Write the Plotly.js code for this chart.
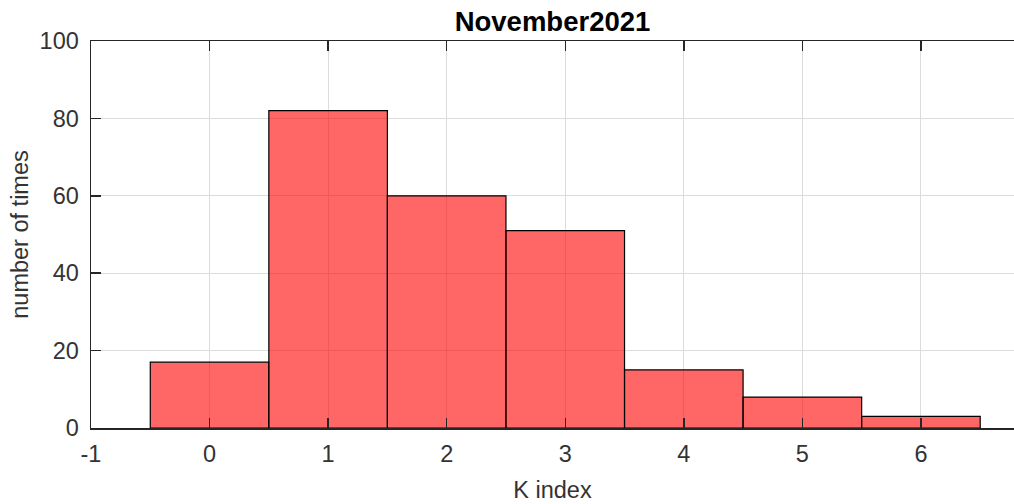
<!DOCTYPE html>
<html>
<head>
<meta charset="utf-8">
<script src="https://cdn.plot.ly/plotly-3.0.1.min.js"></script>
<style>html,body{margin:0;padding:0;background:#fff;}#chart{width:1014px;height:504px;}</style>
</head>
<body>
<div id="chart"></div>
<script>
const kIndex = [0, 1, 2, 3, 4, 5, 6];
const counts = [17, 82, 60, 51, 15, 8, 3];
const xTicks = [-1, 0, 1, 2, 3, 4, 5, 6];
const yTicks = [0, 20, 40, 60, 80, 100];
const chartTitle = 'November2021';
const xLabel = 'K index';
const yLabel = 'number of times';

const trace = {
  type: 'bar',
  x: kIndex,
  y: counts,
  width: 1,
  marker: {color: 'rgba(255,0,0,0.6)', line: {color: '#000', width: 1.2}},
  hoverinfo: 'x+y'
};

const fontFam = 'Liberation Sans, Arial, Helvetica, sans-serif';
const layout = {
  width: 1014, height: 504,
  margin: {l: 91, r: 0, t: 41, b: 76},
  paper_bgcolor: '#fff', plot_bgcolor: '#fff',
  bargap: 0,
  showlegend: false,
  title: {text: '<b>' + chartTitle + '</b>', xref: 'paper', x: 0.5, xanchor: 'center', y: 0.958, yanchor: 'middle',
          font: {family: fontFam, size: 27.5, color: '#000'}},
  xaxis: {
    range: [-1, 6.785], tickvals: xTicks, ticktext: xTicks.map(String),
    showgrid: true, gridcolor: '#dcdcdc', gridwidth: 1, zeroline: false,
    showline: true, linecolor: '#262626', linewidth: 1.5, mirror: 'ticks',
    ticks: 'inside', ticklen: 10, tickwidth: 1.5, tickcolor: '#262626',
    ticklabelstandoff: 4,
    tickfont: {family: fontFam, size: 23.5, color: '#333'},
    title: {text: xLabel, font: {family: fontFam, size: 23.5, color: '#333'}, standoff: 16}
  },
  yaxis: {
    range: [0, 100], tickvals: yTicks, ticktext: yTicks.map(String),
    showgrid: true, gridcolor: '#dcdcdc', gridwidth: 1, zeroline: false,
    showline: true, linecolor: '#262626', linewidth: 1.5,
    ticks: 'inside', ticklen: 10, tickwidth: 1.5, tickcolor: '#262626',
    ticklabelstandoff: 6,
    tickfont: {family: fontFam, size: 23.5, color: '#333'},
    title: {text: yLabel, font: {family: fontFam, size: 23.5, color: '#333'}, standoff: 4}
  }
};

Plotly.newPlot('chart', [trace], layout, {displayModeBar: false, staticPlot: true});
</script>
</body>
</html>
